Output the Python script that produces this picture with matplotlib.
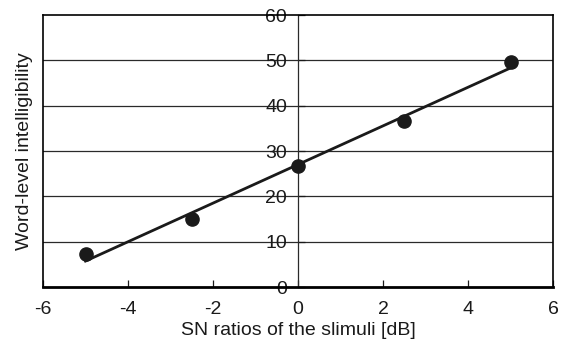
import numpy as np
import matplotlib
matplotlib.use("Agg")
import matplotlib.pyplot as plt

plt.rcParams['font.family'] = ['Liberation Sans', 'DejaVu Sans']
plt.rcParams['axes.unicode_minus'] = False

# datos
sn_db = np.array([-5.0, -2.5, 0.0, 2.5, 5.0])
inteligibilidad = np.array([7.2, 15.0, 26.6, 36.7, 49.6])

x_ticks = [-6, -4, -2, 0, 2, 4, 6]
y_ticks = [0, 10, 20, 30, 40, 50, 60]

# recta de regresion
pendiente, ordenada = np.polyfit(sn_db, inteligibilidad, 1)
x_linea = np.array([sn_db.min(), sn_db.max()])
y_linea = pendiente * x_linea + ordenada

fig = plt.figure(figsize=(5.66, 3.42), dpi=100)
ax = fig.add_axes([43 / 566, 1 - 287 / 342, 510 / 566, 272 / 342])

for y in y_ticks[1:-1]:
    ax.axhline(y, color='#2a2a2a', lw=0.9, zorder=1)

ax.plot(x_linea, y_linea, color='#1a1a1a', lw=2.0, zorder=3)
ax.plot(sn_db, inteligibilidad, 'o', color='#1a1a1a', ms=9.5, zorder=4)

ax.set_xlim(-6, 6)
ax.set_ylim(0, 60)
ax.set_xticks(x_ticks)
ax.set_yticks(y_ticks)

# eje y en x=0
ax.spines['left'].set_position(('data', 0))
ax.spines['left'].set_linewidth(0.9)
ax.spines['left'].set_color('#2a2a2a')
ax.spines['bottom'].set_linewidth(2.0)
ax.spines['top'].set_linewidth(1.2)
ax.spines['right'].set_linewidth(1.2)
ax.axvline(-6, color='k', lw=1.2, clip_on=False, zorder=5)

ax.tick_params(axis='y', direction='in', length=5, width=0.9, pad=8,
               labelsize=14, colors='#1a1a1a')
ax.tick_params(axis='x', direction='in', length=5, width=0.9, pad=10,
               labelsize=14, colors='#1a1a1a')

ax.set_xlabel('SN ratios of the slimuli [dB]', fontsize=14, color='#1a1a1a', labelpad=3)
ax.text(-6.0 - 18 / 42.5, 30, 'Word-level intelligibility', rotation=90, fontsize=14,
        color='#1a1a1a', ha='center', va='center')

fig.savefig('out.png', dpi=100)
